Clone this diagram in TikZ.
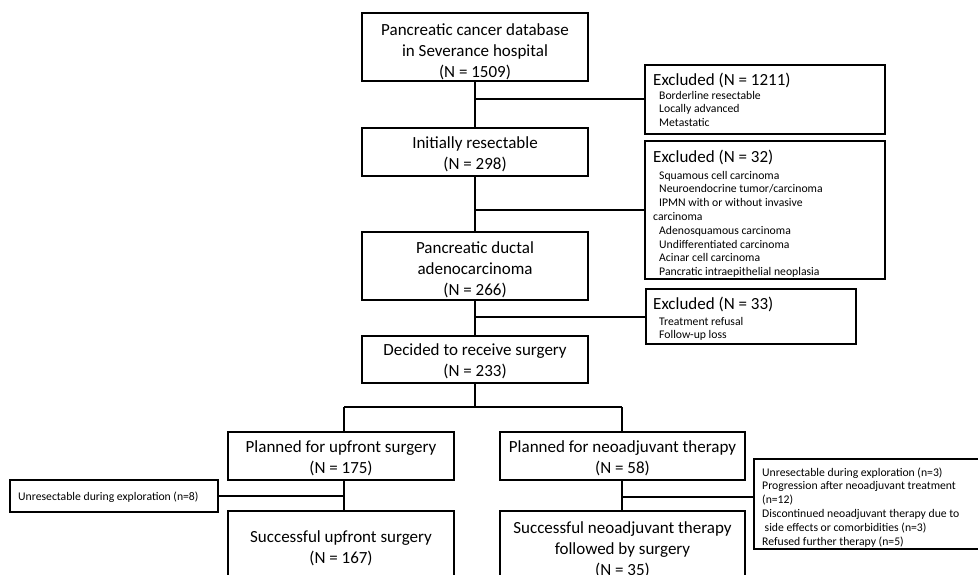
\documentclass[tikz,border=0pt]{standalone}
\usepackage{fontspec}
\setmainfont{Carlito}
\newcommand\up[1]{\rule{0pt}{#1pt}}
\begin{document}
\begin{tikzpicture}[x=1pt,y=-1pt,
  box/.style={draw, line width=1.8pt, inner sep=0pt, outer sep=0pt, anchor=north west},
  big/.style={font=\fontsize{17}{21}\selectfont, align=center},
  conn/.style={line width=1.8pt},
  hdr/.style={anchor=base west, inner sep=0pt, font=\fontsize{17}{20}\selectfont},
  itm/.style={anchor=base west, inner sep=0pt}]
\useasboundingbox (0,0) rectangle (978,574);
\clip (0,0) rectangle (978,574);
\newcommand\itemlines[1]{\parbox[t]{240pt}{\raggedright\fontsize{11.7}{13.8}\selectfont #1}}
\newcommand\ind{\hspace*{6pt}}
% main column
\node[box, big, minimum width=226pt, minimum height=68pt] (b1) at (362,13) {\up{21}Pancreatic cancer database\\in Severance hospital\\(N = 1509)};
\node[box, big, minimum width=226pt, minimum height=48pt] (b2) at (362,128) {\up{17}Initially resectable\\(N = 298)};
\node[box, big, minimum width=226pt, minimum height=68pt] (b3) at (362,232) {\up{20}Pancreatic ductal\\adenocarcinoma\\(N = 266)};
\node[box, big, minimum width=226pt, minimum height=47pt] (b4) at (362,336) {\up{16}Decided to receive surgery\\(N = 233)};
\node[box, big, minimum width=226pt, minimum height=48pt] (b5) at (228,432) {\up{16}Planned for upfront surgery\\(N = 175)};
\node[box, big, minimum width=245pt, minimum height=48pt] (b6) at (500,432) {\up{16}Planned for neoadjuvant therapy\\(N = 58)};
\node[box, big, minimum width=226pt, minimum height=72pt] (b7) at (228,511) {\up{14}Successful upfront surgery\\(N = 167)};
\node[box, big, minimum width=245pt, minimum height=72pt] (b8) at (500,511) {\up{18}Successful neoadjuvant therapy\\followed by surgery\\(N = 35)};
% exclusion boxes
\node[box, minimum width=240pt, minimum height=69pt] (ex1) at (645,65) {};
\node[hdr] (ex1h) at (653,85) {Excluded (N = 1211)};
\node[itm] (ex1i) at (653,99) {\itemlines{\ind Borderline resectable\\\ind Locally advanced\\\ind Metastatic}};
\node[box, minimum width=240pt, minimum height=138pt] (ex2) at (645,141) {};
\node[hdr] (ex2h) at (653,162) {Excluded (N = 32)};
\node[itm] (ex2i) at (653,179) {\itemlines{\ind Squamous cell carcinoma\\\ind Neuroendocrine tumor/carcinoma\\\ind IPMN with or without invasive\\carcinoma\\\ind Adenosquamous carcinoma\\\ind Undifferentiated carcinoma\\\ind Acinar cell carcinoma\\\ind Pancratic intraepithelial neoplasia}};
\node[box, minimum width=210pt, minimum height=55pt] (ex3) at (646,289) {};
\node[hdr] (ex3h) at (653,309) {Excluded (N = 33)};
\node[itm] (ex3i) at (653,325) {\itemlines{\ind Treatment refusal\\\ind Follow-up loss}};
\node[box, minimum width=208pt, minimum height=32pt] (un8) at (10,480) {};
\node[itm] (un8t) at (18,500) {\fontsize{11.7}{13.8}\selectfont Unresectable during exploration (n=8)};
\node[box, minimum width=235pt, minimum height=90pt] (nb) at (754,459) {};
\node[itm] (nbt) at (762,476) {\itemlines{Unresectable during exploration (n=3)\\Progression after neoadjuvant treatment\\(n=12)\\Discontinued neoadjuvant therapy due to\\\hspace*{2.5pt}side effects or comorbidities (n=3)\\Refused further therapy (n=5)}};
% junction coordinates
\coordinate (j0) at (475,99);
\coordinate (j1) at (475,210);
\coordinate (j2) at (475,317);
\coordinate (jt) at (475,407);
\coordinate (jl) at (344,407);
\coordinate (jr) at (622,407);
\coordinate (k1) at (344,496);
\coordinate (k2) at (622,497);
% connectors
\draw[conn] (b1.south) -- (b2.north);
\draw[conn] (j0) -- (ex1.west |- j0);
\draw[conn] (b2.south) -- (b3.north);
\draw[conn] (j1) -- (ex2.west |- j1);
\draw[conn] (b3.south) -- (b4.north);
\draw[conn] (j2) -- (ex3.west |- j2);
\draw[conn] (b4.south) -- (jt);
\draw[conn] (jl) -- (jr);
\draw[conn] (jl) -- (jl |- b5.north);
\draw[conn] (jr) -- (jr |- b6.north);
\draw[conn] (jl |- b5.south) -- (jl |- b7.north);
\draw[conn] (k1) -- (un8.east |- k1);
\draw[conn] (jr |- b6.south) -- (jr |- b8.north);
\draw[conn] (k2) -- (nb.west |- k2);
\end{tikzpicture}
\end{document}
